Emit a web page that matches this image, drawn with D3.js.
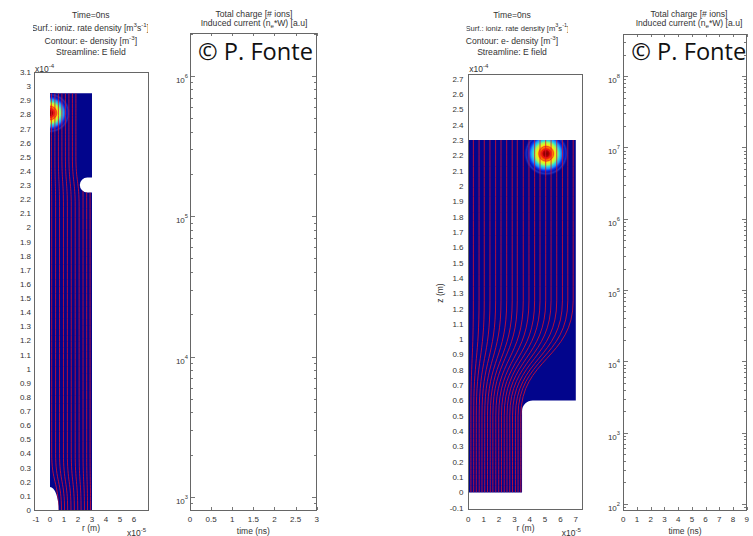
<!DOCTYPE html>
<html lang="en">
<head>
<meta charset="utf-8">
<title>Streamer frames</title>
<script src="https://cdn.jsdelivr.net/npm/d3@7/dist/d3.min.js"></script>
<style>
  body { margin: 0; background: #fff; }
  text { font-family: "Liberation Sans", Arial, sans-serif; fill: #333; }
</style>
</head>
<body>
<script>
// ---------- values ----------
// r in units of 1e-5 m, z in units of 1e-4 m

// frame 1, field plot
var a_xTicks = [-1, 0, 1, 2, 3, 4, 5, 6];
var a_yTicks = [0, 0.1, 0.2, 0.3, 0.4, 0.5, 0.6, 0.7, 0.8, 0.9, 1, 1.1, 1.2, 1.3, 1.4, 1.5,
                1.6, 1.7, 1.8, 1.9, 2, 2.1, 2.2, 2.3, 2.4, 2.5, 2.6, 2.7, 2.8, 2.9, 3, 3.1];
var a_gap = [3, 2.95];              // outer corner of the gas gap (r, z)
var a_notch = [2.66, 2.30, 0.53];   // notch centre r, z and radius (r units)
var a_tip = [0.62, 0.163];          // bottom electrode tip, semi axes (r, z)
var a_blob = [0, 2.81];
var a_lineTop = [0.1, 0.35, 0.6, 0.85, 1.1, 1.35, 1.6, 1.85, null, null, null];
var a_lineMid = [0.12, 0.40, 0.68, 0.96, 1.24, 1.52, 1.80, 2.08, 2.36, 2.62, 2.86];
var a_lineBot = [0.6, 0.82, 1.04, 1.26, 1.5, 1.74, 1.98, 2.22, 2.46, 2.68, 2.9];

// frame 2, field plot
var b_xTicks = [0, 1, 2, 3, 4, 5, 6, 7];
var b_yTicks = [-0.1, 0, 0.1, 0.2, 0.3, 0.4, 0.5, 0.6, 0.7, 0.8, 0.9, 1, 1.1, 1.2, 1.3, 1.4,
                1.5, 1.6, 1.7, 1.8, 1.9, 2, 2.1, 2.2, 2.3, 2.4, 2.5, 2.6, 2.7];
var b_gap = [7, 2.3];
var b_step = [3.5, 0.6, 0.7];       // channel radius, electrode top z, corner radius (r units)
var b_blob = [5.07, 2.21];
var b_lineTop = [0.33, 0.7, 1.04, 1.41, 1.78, 2.13, 2.5, 2.86, 3.19, 3.58, 3.95, 4.32, 4.67,
                 5.04, 5.39, 5.76, 6.13, 6.48, 6.83];
var b_lineBot = [0.17, 0.35, 0.52, 0.71, 0.89, 1.07, 1.25, 1.43, 1.6, 1.79, 1.98, 2.16, 2.34,
                 2.52, 2.7, 2.88, 3.07, 3.24, 3.42];
var b_bend = [1.25, 0.5];

// charge / current plots (empty at t = 0)
var c_xTicks = [0, 0.5, 1, 1.5, 2, 2.5, 3];
var c_yMajor = [1e3, 1e4, 1e5, 1e6];
var c_yDomain = [807, 2.02e6];
var d_xTicks = [0, 1, 2, 3, 4, 5, 6, 7, 8, 9];
var d_yMajor = [1e2, 1e3, 1e4, 1e5, 1e6, 1e7, 1e8];
var d_yDomain = [82, 3.9e8];

var blobR = 1.45;
var contourR = [0.28, 0.48];

// ---------------------------------------------------------------
var svg = d3.select("body").append("svg").attr("width", 753).attr("height", 536);
var defs = svg.append("defs");
var grad = defs.append("radialGradient").attr("id", "jet");
[[0, "#700000"], [0.12, "#a80000"], [0.2, "#ee1000"], [0.3, "#ff8a00"], [0.4, "#f4ef10"],
 [0.5, "#9cff5a"], [0.59, "#2ad6e0"], [0.68, "#1e8cff"], [0.76, "#0434ee"], [0.83, "#0a16b4"],
 [0.9, "#1a30c0"], [0.96, "#060d9c"], [1, "#02058c"]].forEach(function(s) {
    grad.append("stop").attr("offset", s[0]).attr("stop-color", s[1]);
});

// text with super / subscripts: parts are strings or [string, -1 (sup) | 1 (sub)]
function rich(g, x, y, parts, size, anchor, shift) {
    var t = g.append("text").attr("x", x).attr("y", y).attr("font-size", size)
        .attr("text-anchor", anchor || "middle");
    var level = 0;
    shift = shift || size * 0.42;
    parts.forEach(function(p) {
        var s = typeof p === "string" ? [p, 0] : p;
        t.append("tspan").attr("dy", (s[1] - level) * shift)
            .attr("font-size", s[1] ? size * 0.72 : size).text(s[0]);
        level = s[1];
    });
    return t;
}
function fmt(v) { return String(+v.toFixed(1)); }

function fieldPanel(o) {
    var g = svg.append("g");
    var x = d3.scaleLinear().domain(o.xDom).range(o.xRange);
    var y = d3.scaleLinear().domain(o.yDom).range(o.yRange);
    var id = "clip" + o.id;
    defs.append("clipPath").attr("id", id).append("path").attr("d", o.shape(x, y));
    g.append("path").attr("d", o.shape(x, y)).attr("fill", "#02058c");
    var inner = g.append("g").attr("clip-path", "url(#" + id + ")");
    var rb = x(blobR) - x(0);
    inner.append("circle").attr("cx", x(o.blob[0])).attr("cy", y(o.blob[1])).attr("r", rb)
        .attr("fill", "url(#jet)");
    inner.selectAll(".ct").data(contourR).enter().append("circle")
        .attr("cx", x(o.blob[0])).attr("cy", y(o.blob[1]))
        .attr("r", function(d) { return x(d) - x(0); })
        .attr("fill", "none").attr("stroke", "#e8202a").attr("stroke-width", 0.7);
    var line = d3.line().x(function(d) { return x(d[0]); }).y(function(d) { return y(d[1]); })
        .curve(d3.curveBumpY);
    inner.selectAll(".sl").data(o.lines).enter().append("path")
        .attr("d", line).attr("fill", "none").attr("stroke", "#e0122c").attr("stroke-width", 0.8);
    // box
    g.append("rect").attr("x", o.xRange[0]).attr("y", o.yRange[1])
        .attr("width", o.xRange[1] - o.xRange[0]).attr("height", o.yRange[0] - o.yRange[1])
        .attr("fill", "none").attr("stroke", "#666").attr("shape-rendering", "crispEdges");
    // tick labels
    g.selectAll(".yl").data(o.yTicks).enter().append("text")
        .attr("x", o.yLabelX).attr("y", function(d) { return y(d) + 3; })
        .attr("text-anchor", "end").attr("font-size", 8).text(fmt);
    g.selectAll(".xl").data(o.xTicks).enter().append("text")
        .attr("x", function(d) { return x(d); }).attr("y", 521.5)
        .attr("text-anchor", "middle").attr("font-size", 8).text(fmt);
    rich(g, o.xRange[0] + 1, 72, ["x10", ["-4", -1]], 8.5, "start");
    rich(g, o.xRange[1] - 21, 535.5, ["x10", ["-5", -1]], 8.5, "start");
    g.append("text").attr("x", (o.xRange[0] + o.xRange[1]) / 2).attr("y", 531)
        .attr("text-anchor", "middle").attr("font-size", 8.5).text("r (m)");
    if (o.zLabelX) {
        g.append("text").attr("transform", "translate(" + o.zLabelX + ",293) rotate(-90)")
            .attr("text-anchor", "middle").attr("font-size", 8.5).text("z (m)");
    }
    // titles
    var tx = o.titleX;
    g.append("text").attr("x", tx).attr("y", 17.5).attr("text-anchor", "middle")
        .attr("font-size", 8.6).text("Time=0ns");
    var sid = "sclip" + o.id;
    defs.append("clipPath").attr("id", sid).append("rect")
        .attr("x", o.surfClip[0]).attr("y", 18).attr("width", o.surfClip[1] - o.surfClip[0]).attr("height", 16);
    rich(g.append("g").attr("clip-path", "url(#" + sid + ")"), (o.surfClip[0] + o.surfClip[1]) / 2, 30.5,
        ["Surf.: ioniz. rate density [m", ["3", -1], "s", ["-1", -1], "]"], o.surfSize);
    rich(g, tx, 44, ["Contour: e- density [m", ["-3", -1], "]"], 8.6);
    g.append("text").attr("x", tx).attr("y", 55).attr("text-anchor", "middle")
        .attr("font-size", 8.6).text("Streamline: E field");
}

function logPanel(o) {
    var g = svg.append("g");
    var x = d3.scaleLinear().domain([o.xTicks[0], o.xTicks[o.xTicks.length - 1]]).range(o.xRange);
    var y = d3.scaleLog().domain(o.yDom).range(o.yRange);
    var x0 = o.xRange[0], x1 = o.xRange[1], y0 = o.yRange[0], y1 = o.yRange[1];
    var tk = g.append("g").attr("stroke", "#555").attr("stroke-width", 0.8)
        .attr("shape-rendering", "crispEdges");
    var minor = y.ticks().filter(function(v) { return o.yMajor.indexOf(v) < 0; });
    [[minor, 2.5], [o.yMajor, 5]].forEach(function(set) {
        tk.selectAll(null).data(set[0]).enter().append("path")
            .attr("d", function(d) {
                var yy = Math.round(y(d)) + 0.5;
                return "M" + x0 + "," + yy + "h" + set[1] + "M" + x1 + "," + yy + "h" + (-set[1]);
            });
    });
    tk.selectAll(null).data(o.xTicks).enter().append("path")
        .attr("d", function(d) {
            var xx = Math.round(x(d)) + 0.5;
            return "M" + xx + "," + y0 + "v-3M" + xx + "," + y1 + "v3";
        });
    g.append("rect").attr("x", x0).attr("y", y1).attr("width", x1 - x0).attr("height", y0 - y1)
        .attr("fill", "none").attr("stroke", "#666").attr("shape-rendering", "crispEdges");
    o.yMajor.forEach(function(v) {
        rich(g, o.yLabelX, y(v) + 7, ["10", [String(Math.round(Math.log10(v))), -1]], 8, "end", 5);
    });
    g.selectAll(".xl").data(o.xTicks).enter().append("text")
        .attr("x", function(d) { return x(d); }).attr("y", 522)
        .attr("text-anchor", "middle").attr("font-size", 8).text(fmt);
    g.append("text").attr("x", (x0 + x1) / 2).attr("y", 534).attr("text-anchor", "middle")
        .attr("font-size", 8.5).text("time (ns)");
    g.append("text").attr("x", o.titleX).attr("y", 16.5).attr("text-anchor", "middle")
        .attr("font-size", 8.6).text("Total charge [# ions]");
    rich(g, o.titleX, 25.5, ["Induced current (n", ["e", 1], "*W) [a.u]"], 8.6, "middle", 2.6);
    g.append("text").attr("x", o.xRange[0] + 8).attr("y", 60).attr("font-size", 23)
        .style("font-family", "'Open Sans', 'Noto Sans', sans-serif").style("fill", "#111")
        .attr("textLength", 115).attr("lengthAdjust", "spacingAndGlyphs").text("\u00a9 P. Fonte");
}

// frame 1 streamlines
var a_lines = a_lineMid.map(function(m, i) {
    var t = a_lineTop[i], b = a_lineBot[i];
    if (t === null) return [[m, 2.3], [m, 0.4], [b, 0]];
    return [[t, a_gap[1]], [t, 2.5], [m, 2.15], [m, 0.4], [b, 0]];
});
// frame 2 streamlines
var b_lines = b_lineTop.map(function(t, i) {
    var b = b_lineBot[i];
    return [[t, b_gap[1]], [t, b_bend[0]], [b, b_bend[1]], [b, 0]];
});

fieldPanel({
    id: "a", xDom: [-1.143, 7], xRange: [34, 148], yDom: [0, 3.1], yRange: [510, 72],
    xTicks: a_xTicks, yTicks: a_yTicks, yLabelX: 31, titleX: 90.8, surfClip: [33, 148], surfSize: 8.6,
    blob: a_blob, lines: a_lines,
    shape: function(x, y) {
        var rN = x(a_notch[2]) - x(0), nt = y(a_notch[1]) - rN, nb = y(a_notch[1]) + rN;
        var ex = x(a_tip[0]) - x(0), ey = y(0) - y(a_tip[1]);
        return "M" + x(0) + "," + y(a_tip[1]) + "L" + x(0) + "," + y(a_gap[1]) +
            "L" + x(a_gap[0]) + "," + y(a_gap[1]) + "L" + x(a_gap[0]) + "," + nt +
            "L" + x(a_notch[0]) + "," + nt + "A" + rN + "," + rN + " 0 0 0 " + x(a_notch[0]) + "," + nb +
            "L" + x(a_gap[0]) + "," + nb + "L" + x(a_gap[0]) + "," + y(0) +
            "L" + x(a_tip[0]) + "," + y(0) + "A" + ex + "," + ey + " 0 0 0 " + x(0) + "," + y(a_tip[1]) + "Z";
    }
});

logPanel({
    xRange: [190, 316.7], yRange: [510, 33], yDom: c_yDomain, xTicks: c_xTicks, yMajor: c_yMajor,
    yLabelX: 188, titleX: 254
});

fieldPanel({
    id: "b", xDom: [0, 7.45], xRange: [468.3, 582.7], yDom: [-0.11, 2.73], yRange: [509.3, 74],
    xTicks: b_xTicks, yTicks: b_yTicks, yLabelX: 463.5, titleX: 512, surfClip: [466.5, 568], surfSize: 7.6,
    blob: b_blob, lines: b_lines, zLabelX: 443,
    shape: function(x, y) {
        var R = x(b_step[2]) - x(0);
        return "M" + x(0) + "," + y(0) + "L" + x(b_step[0]) + "," + y(0) +
            "L" + x(b_step[0]) + "," + (y(b_step[1]) + R) +
            "A" + R + "," + R + " 0 0 1 " + (x(b_step[0]) + R) + "," + y(b_step[1]) +
            "L" + x(b_gap[0]) + "," + y(b_step[1]) + "L" + x(b_gap[0]) + "," + y(b_gap[1]) +
            "L" + x(0) + "," + y(b_gap[1]) + "Z";
    }
});

logPanel({
    xRange: [623.3, 746.7], yRange: [510, 34], yDom: d_yDomain, xTicks: d_xTicks, yMajor: d_yMajor,
    yLabelX: 620, titleX: 689
});
</script>
</body>
</html>
